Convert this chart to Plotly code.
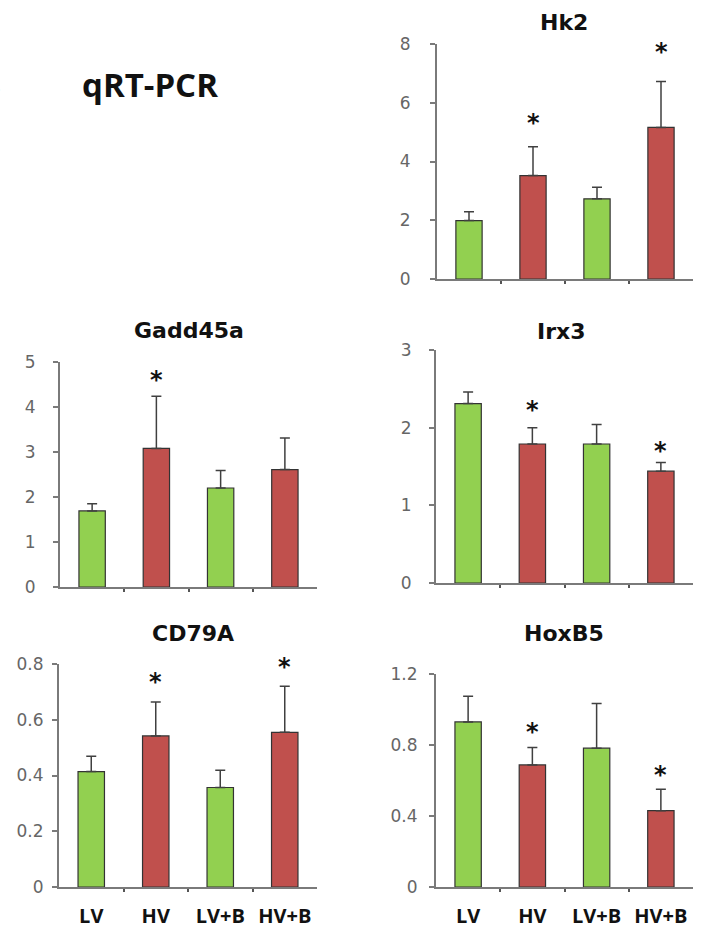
import plotly.graph_objects as go

W, H = 708, 931

categories = ["LV", "HV", "LV+B", "HV+B"]

hk2_mean = [1.99, 3.52, 2.73, 5.16]
hk2_err = [0.30, 0.98, 0.39, 1.56]
hk2_star = [None, 5.37, None, 7.81]

gadd45a_mean = [1.69, 3.08, 2.20, 2.61]
gadd45a_err = [0.16, 1.16, 0.39, 0.70]
gadd45a_star = [None, 4.65, None, None]

irx3_mean = [2.31, 1.79, 1.79, 1.44]
irx3_err = [0.15, 0.21, 0.25, 0.11]
irx3_star = [None, 2.25, None, 1.73]

cd79a_mean = [0.414, 0.542, 0.357, 0.555]
cd79a_err = [0.055, 0.122, 0.062, 0.165]
cd79a_star = [None, 0.741, None, 0.798]

hoxb5_mean = [0.93, 0.688, 0.782, 0.43]
hoxb5_err = [0.144, 0.098, 0.252, 0.12]
hoxb5_star = [None, 0.882, None, 0.64]

GREEN = "#92D050"
RED = "#C0504D"
bar_colors = [GREEN, RED, GREEN, RED]

AXIS_COLOR = "#7a7a7a"
TICK_FONT = dict(family="DejaVu Sans", size=17, color="#666666")


def fx(p):
    return p / W


def fy(p):
    return 1 - p / H


panels = [
    dict(title="Hk2", mean=hk2_mean, err=hk2_err, star=hk2_star, ymax=8, dtick=2,
         xd=(437, 693), yd=(44, 279), tpos=(564, 23), standoff=16, labels=False),
    dict(title="Gadd45a", mean=gadd45a_mean, err=gadd45a_err, star=gadd45a_star, ymax=5, dtick=1,
         xd=(60, 317), yd=(362, 587), tpos=(189, 330), standoff=14, labels=False),
    dict(title="Irx3", mean=irx3_mean, err=irx3_err, star=irx3_star, ymax=3, dtick=1,
         xd=(436, 693), yd=(350, 583), tpos=(561, 332), standoff=14, labels=False),
    dict(title="CD79A", mean=cd79a_mean, err=cd79a_err, star=cd79a_star, ymax=0.8, dtick=0.2,
         xd=(59, 317), yd=(664, 887), tpos=(193, 633), standoff=5, labels=True),
    dict(title="HoxB5", mean=hoxb5_mean, err=hoxb5_err, star=hoxb5_star, ymax=1.2, dtick=0.4,
         xd=(436, 693), yd=(674, 887), tpos=(564, 633), standoff=8, labels=True),
]

fig = go.Figure()
annotations = []
layout_axes = {}

for k, p in enumerate(panels, start=1):
    sfx = "" if k == 1 else str(k)
    xref, yref = "x" + sfx, "y" + sfx
    fig.add_trace(go.Bar(
        x=list(range(len(categories))), y=p["mean"],
        xaxis=xref, yaxis=yref, width=0.41,
        marker=dict(color=bar_colors, line=dict(color="#333333", width=1.2)),
        error_y=dict(type="data", symmetric=False, array=p["err"],
                     arrayminus=[0] * len(p["err"]), color="#404040",
                     thickness=1.5, width=5),
        hoverinfo="skip",
    ))
    layout_axes["xaxis" + sfx] = dict(
        domain=[fx(p["xd"][0]), fx(p["xd"][1])], anchor=yref,
        range=[-0.5, 3.5], tickmode="array",
        tickvals=list(range(len(categories))), ticktext=categories,
        showticklabels=p["labels"], ticks="",
        tickfont=dict(family="Open Sans", size=20, color="#111111", weight="bold"),
        ticklabelstandoff=10, automargin=False,
        minor=dict(tickmode="array", tickvals=[0.5, 1.5, 2.5], ticks="outside",
                   ticklen=3, tickwidth=1.5, tickcolor="#555555"),
        showline=True, linecolor=AXIS_COLOR, linewidth=2,
        showgrid=False, zeroline=False, fixedrange=True,
    )
    layout_axes["yaxis" + sfx] = dict(
        domain=[fy(p["yd"][1]), fy(p["yd"][0])], anchor=xref,
        range=[0, p["ymax"]], dtick=p["dtick"], tick0=0,
        ticks="outside", ticklen=5, tickwidth=1.5, tickcolor=AXIS_COLOR,
        tickfont=TICK_FONT, ticklabelstandoff=p["standoff"], automargin=False,
        showline=True, linecolor=AXIS_COLOR, linewidth=2,
        showgrid=False, zeroline=False, fixedrange=True,
    )
    annotations.append(dict(
        text=p["title"], xref="paper", yref="paper",
        x=fx(p["tpos"][0]), y=fy(p["tpos"][1]), xanchor="center", yanchor="middle",
        showarrow=False,
        font=dict(family="DejaVu Sans", size=22, color="#111111", weight="bold"),
    ))
    for i, s in enumerate(p["star"]):
        if s is not None:
            annotations.append(dict(
                text="*", xref=xref, yref=yref, x=i, y=s,
                xanchor="center", yanchor="middle", yshift=-2, showarrow=False,
                font=dict(family="DejaVu Sans", size=24, color="#111111", weight="bold"),
            ))

annotations.append(dict(
    text="qRT-PCR", xref="paper", yref="paper", x=fx(80), y=fy(85),
    xanchor="left", yanchor="middle", showarrow=False,
    font=dict(family="Open Sans", size=33, color="#111111", weight="bold"),
))
annotations.append(dict(
    text="B", xref="paper", yref="paper", x=fx(3), y=fy(85),
    xanchor="right", yanchor="middle", showarrow=False,
    font=dict(family="Open Sans", size=33, color="#111111", weight="bold"),
))

fig.update_layout(
    template="none",
    width=W, height=H, margin=dict(l=0, r=0, t=0, b=0, autoexpand=False),
    paper_bgcolor="white", plot_bgcolor="white",
    showlegend=False, bargap=0.5,
    annotations=annotations, **layout_axes,
)

fig.write_html("out.html", config=dict(displayModeBar=False),
               post_script="document.body.style.margin='0';")
